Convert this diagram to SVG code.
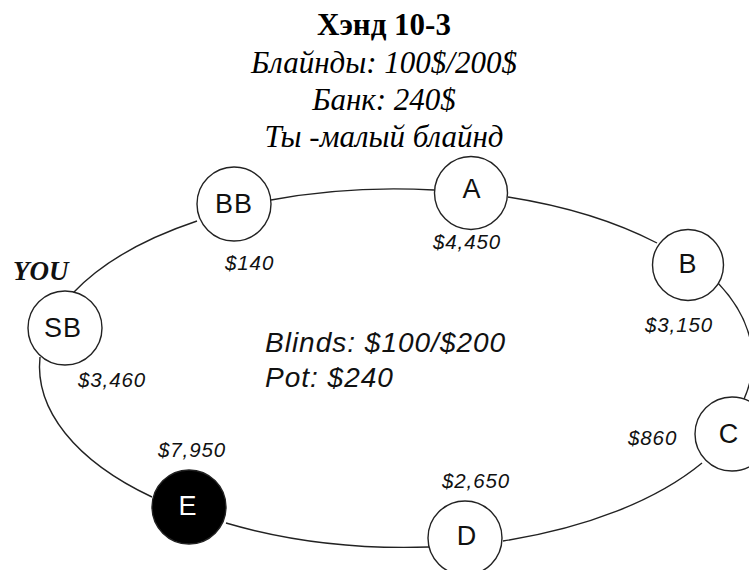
<svg xmlns="http://www.w3.org/2000/svg" width="749" height="570" viewBox="0 0 749 570">
<style>
.title{font-family:"Liberation Serif","Times New Roman",serif;font-size:31px;fill:#000;text-anchor:middle}
.tb{font-weight:bold}
.ti{font-style:italic}
.node circle{fill:#fff;stroke:#222;stroke-width:1.4}
.lbl{font-family:"Liberation Sans",Arial,sans-serif;font-size:27px;fill:#111;text-anchor:middle;letter-spacing:1px}
.amt{font-family:"Liberation Sans",Arial,sans-serif;font-size:20.5px;font-style:italic;fill:#111;letter-spacing:0.9px}
.info{font-family:"Liberation Sans",Arial,sans-serif;font-size:28px;font-style:italic;fill:#111;letter-spacing:1px}
.you{font-family:"Liberation Serif","Times New Roman",serif;font-size:27px;font-weight:bold;font-style:italic;fill:#111}
#connectors path{fill:none;stroke:#222;stroke-width:1.4}
</style>
<rect width="749" height="570" fill="#fff"/>
<g id="title">
<text class="title tb" x="384" y="35">Хэнд 10-3</text>
<text class="title ti" x="384" y="73">Блайнды: 100$/200$</text>
<text class="title ti" x="384" y="110">Банк: 240$</text>
<text class="title ti" x="384" y="147">Ты -малый блайнд</text>
</g>
<g id="connectors">
<path d="M73,293 A356,179 0 0 1 197,221"/>
<path d="M271,200 A356,179 0 0 1 434,190"/>
<path d="M508,197 A356,179 0 0 1 657,243"/>
<path d="M718,283 A356,179 0 0 1 744,399"/>
<path d="M702,463 A356,179 0 0 1 503,541"/>
<path d="M429,547 A356,179 0 0 1 226,523"/>
<path d="M152,497 A356,179 0 0 1 40,357"/>
</g>
<g id="node-SB" class="node">
<circle cx="65" cy="328" r="37"/>
<text class="lbl" x="63" y="337">SB</text>
<text class="you" x="13" y="280">YOU</text>
<text class="amt" x="78" y="387">$3,460</text>
</g>
<g id="node-BB" class="node">
<circle cx="234" cy="204" r="37"/>
<text class="lbl" x="234" y="213">BB</text>
<text class="amt" x="225" y="270">$140</text>
</g>
<g id="node-A" class="node">
<circle cx="471" cy="193" r="36.5"/>
<text class="lbl" x="472" y="198">A</text>
<text class="amt" x="433" y="249">$4,450</text>
</g>
<g id="node-B" class="node">
<circle cx="688" cy="265" r="35.5"/>
<text class="lbl" x="688" y="273">B</text>
<text class="amt" x="645" y="332">$3,150</text>
</g>
<g id="node-C" class="node">
<circle cx="732" cy="434" r="37"/>
<text class="lbl" x="729" y="443">C</text>
<text class="amt" x="628" y="445">$860</text>
</g>
<g id="node-D" class="node">
<circle cx="465" cy="538" r="37"/>
<text class="lbl" x="467" y="545">D</text>
<text class="amt" x="442" y="488">$2,650</text>
</g>
<g id="node-E" class="node">
<circle cx="189" cy="507" r="37" style="fill:#000"/>
<text class="lbl" x="188" y="515" style="fill:#fff">E</text>
<text class="amt" x="158" y="457">$7,950</text>
</g>
<g id="center-info">
<text class="info" x="265" y="352">Blinds: $100/$200</text>
<text class="info" x="265" y="387">Pot: $240</text>
</g>
</svg>
